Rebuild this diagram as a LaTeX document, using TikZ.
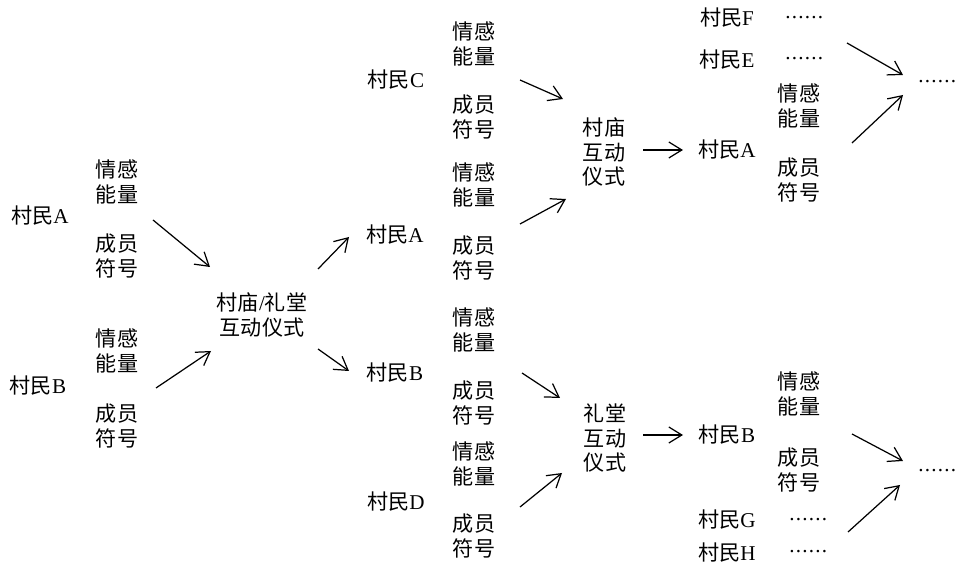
\documentclass[tikz,border=0pt]{standalone}
\usepackage{fontspec}
\setmainfont{Liberation Serif}
\newfontfamily\cjk{Noto Sans CJK SC}
\usetikzlibrary{arrows.meta}
\newcommand\lat[1]{{\rmfamily #1}}
\newcommand\sixdots{\raisebox{0.12em}{\rmfamily .\kern0.7pt.\kern0.7pt.\kern0.7pt.\kern0.7pt.\kern0.7pt.}}
\tikzset{
  lbl/.style={font=\cjk\fontsize{12}{14.2}\selectfont, inner sep=0pt, align=center},
  arr/.style={draw, line width=0.7pt, -{Straight Barb[length=2.6mm,width=3.2mm,line width=0.7pt]}}
}
\begin{document}
\begin{tikzpicture}[x=0.02cm,y=-0.02cm]
\useasboundingbox (0,0) rectangle (957,563);
% left column
\node[lbl] (vA) at (40,216) {村民\lat{A}};
\node[lbl] (vB) at (38,386) {村民\lat{B}};
\node[lbl] (eA1) at (117,182) {情感\\能量};
\node[lbl] (sA1) at (117,256) {成员\\符号};
\node[lbl] (eB1) at (117,351) {情感\\能量};
\node[lbl] (sB1) at (117,426) {成员\\符号};
\node[lbl] (r0) at (262,315) {村庙\lat{/}礼堂\\互动仪式};
% middle column
\node[lbl] (vC) at (396,80) {村民\lat{C}};
\node[lbl] (vA2) at (395,235) {村民\lat{A}};
\node[lbl] (vB2) at (395,373) {村民\lat{B}};
\node[lbl] (vD) at (396,502) {村民\lat{D}};
\node[lbl] (eC) at (474,44) {情感\\能量};
\node[lbl] (sC) at (474,117) {成员\\符号};
\node[lbl] (eA2) at (474,185) {情感\\能量};
\node[lbl] (sA2) at (474,258) {成员\\符号};
\node[lbl] (eB2) at (474,330) {情感\\能量};
\node[lbl] (sB2) at (474,403) {成员\\符号};
\node[lbl] (eD) at (474,464) {情感\\能量};
\node[lbl] (sD) at (474,536) {成员\\符号};
\node[lbl] (r1) at (604,152) {村庙\\互动\\仪式};
\node[lbl] (r2) at (605,438) {礼堂\\互动\\仪式};
% right top
\node[lbl] (vF) at (727,18) {村民\lat{F}};
\node[lbl,anchor=west] (dF) at (785,19) {\sixdots};
\node[lbl] (vE) at (727,60) {村民\lat{E}};
\node[lbl,anchor=west] (dE) at (785,60) {\sixdots};
\node[lbl] (eA3) at (799,106) {情感\\能量};
\node[lbl] (vA3) at (727,150) {村民\lat{A}};
\node[lbl] (sA3) at (799,180) {成员\\符号};
\node[lbl,anchor=west] (out1) at (918,83) {\sixdots};
% right bottom
\node[lbl] (eB3) at (799,394) {情感\\能量};
\node[lbl] (vB3) at (727,435) {村民\lat{B}};
\node[lbl] (sB3) at (799,470) {成员\\符号};
\node[lbl] (vG) at (727,520) {村民\lat{G}};
\node[lbl,anchor=west] (dG) at (789,521) {\sixdots};
\node[lbl] (vH) at (727,553) {村民\lat{H}};
\node[lbl,anchor=west] (dH) at (789,553) {\sixdots};
\node[lbl,anchor=west] (out2) at (918,472) {\sixdots};
% arrow end points
\coordinate (a1s) at (153,220); \coordinate (a1e) at (210,267);
\coordinate (a2s) at (156,388); \coordinate (a2e) at (211,351);
\coordinate (a3s) at (318,269); \coordinate (a3e) at (349,237);
\coordinate (a4s) at (318,349); \coordinate (a4e) at (349,371);
\coordinate (a5s) at (520,80);  \coordinate (a5e) at (563,99);
\coordinate (a6s) at (520,224); \coordinate (a6e) at (566,199);
\coordinate (a7s) at (522,373); \coordinate (a7e) at (560,398);
\coordinate (a8s) at (520,507); \coordinate (a8e) at (562,473);
\coordinate (a9s) at (643,150); \coordinate (a9e) at (683,150);
\coordinate (b1s) at (643,435); \coordinate (b1e) at (683,435);
\coordinate (b2s) at (847,43);  \coordinate (b2e) at (903,75);
\coordinate (b3s) at (852,143); \coordinate (b3e) at (903,95);
\coordinate (b4s) at (852,434); \coordinate (b4e) at (903,461);
\coordinate (b5s) at (848,532); \coordinate (b5e) at (900,485);
\foreach \s/\e in {a1s/a1e,a2s/a2e,a3s/a3e,a4s/a4e,a5s/a5e,a6s/a6e,a7s/a7e,a8s/a8e,a9s/a9e,b1s/b1e,b2s/b2e,b3s/b3e,b4s/b4e,b5s/b5e}
  \draw[arr] (\s) -- (\e);
\end{tikzpicture}
\end{document}
